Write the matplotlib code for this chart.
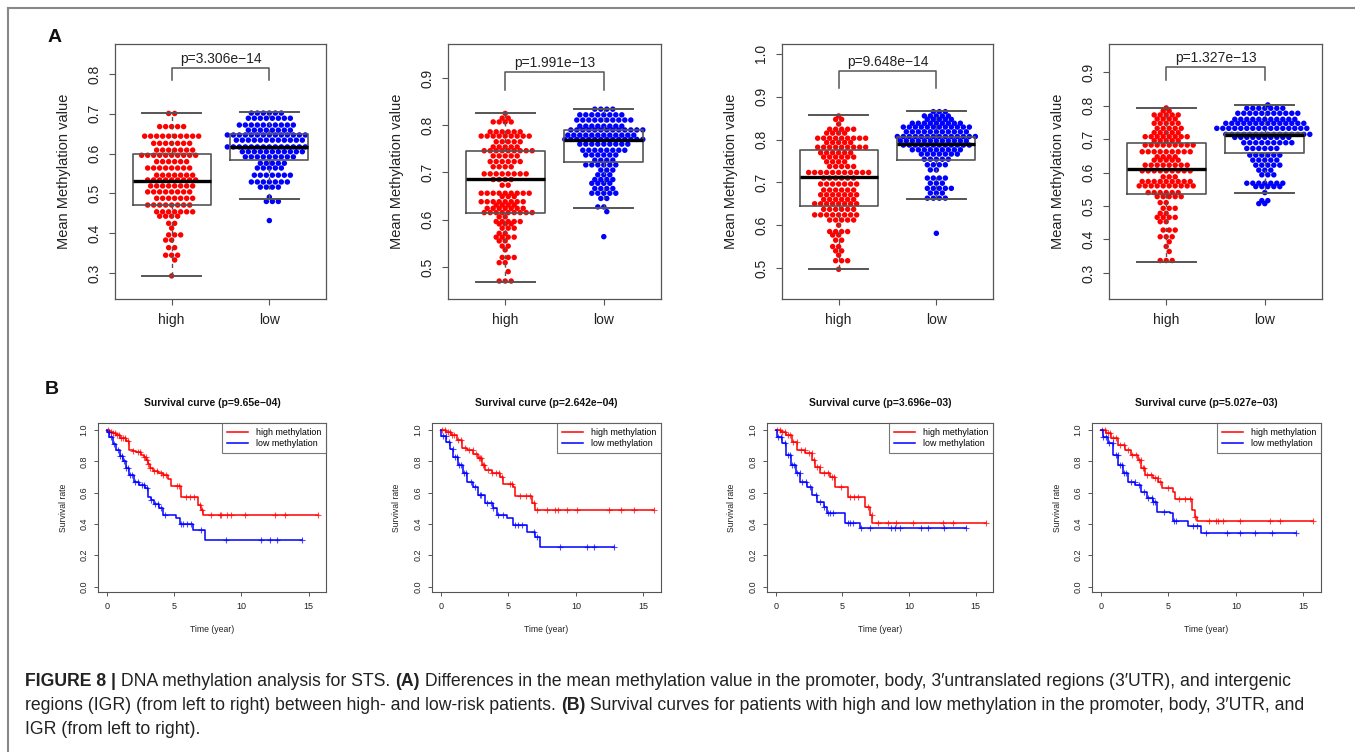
import numpy as np
import matplotlib
matplotlib.use("Agg")
import matplotlib.pyplot as plt
from matplotlib.lines import Line2D

plt.rcParams['font.family'] = ['Liberation Sans', 'DejaVu Sans']

# ---------------- data: methylation swarm (levels, counts of dots) ----------------
groups = ["high", "low"]
box_pvals = ["p=3.306e\u221214", "p=1.991e\u221213", "p=9.648e\u221214", "p=1.327e\u221213"]

p1_high_levels = [0.701, 0.668, 0.644, 0.626, 0.609, 0.596, 0.580, 0.564, 0.546, 0.534, 0.519, 0.504, 0.488,
                  0.471, 0.454, 0.443, 0.425, 0.413, 0.396, 0.383, 0.364, 0.345, 0.333, 0.293]
p1_high_counts = [2, 5, 10, 7, 7, 10, 6, 8, 7, 9, 8, 8, 7, 8, 7, 4, 2, 1, 3, 2, 2, 3, 1, 1]
p1_low_levels = [0.702, 0.689, 0.672, 0.659, 0.647, 0.634, 0.617, 0.605, 0.592, 0.576, 0.564, 0.546, 0.529,
                 0.516, 0.491, 0.480, 0.432]
p1_low_counts = [6, 8, 10, 8, 14, 12, 14, 11, 9, 5, 5, 7, 7, 4, 1, 3, 1]

p2_high_levels = [0.825, 0.815, 0.807, 0.786, 0.777, 0.765, 0.754, 0.746, 0.735, 0.723, 0.712, 0.697, 0.685,
                  0.673, 0.656, 0.649, 0.638, 0.631, 0.624, 0.615, 0.606, 0.596, 0.591, 0.582, 0.571, 0.563,
                  0.555, 0.544, 0.536, 0.520, 0.509, 0.490, 0.470]
p2_high_counts = [1, 2, 4, 6, 9, 5, 5, 9, 5, 6, 4, 8, 4, 2, 9, 3, 8, 4, 7, 9, 2, 5, 3, 3, 2, 4, 2, 2, 1, 3, 2, 1, 3]
p2_low_levels = [0.834, 0.822, 0.811, 0.798, 0.790, 0.779, 0.770, 0.760, 0.747, 0.737, 0.726, 0.716, 0.705,
                 0.695, 0.685, 0.677, 0.666, 0.656, 0.645, 0.627, 0.617, 0.564]
p2_low_counts = [4, 8, 10, 8, 13, 12, 14, 9, 8, 6, 4, 6, 3, 3, 4, 4, 4, 5, 2, 2, 1, 1]

p3_high_levels = [0.855, 0.847, 0.836, 0.824, 0.815, 0.803, 0.793, 0.782, 0.769, 0.759, 0.748, 0.737, 0.723,
                  0.710, 0.696, 0.682, 0.671, 0.660, 0.650, 0.637, 0.624, 0.612, 0.600, 0.585, 0.577, 0.565,
                  0.550, 0.540, 0.530, 0.517, 0.497]
p3_high_counts = [1, 2, 1, 5, 4, 9, 5, 9, 6, 6, 4, 5, 11, 6, 7, 6, 7, 6, 8, 6, 8, 5, 1, 4, 2, 2, 2, 2, 1, 3, 1]
p3_low_levels = [0.865, 0.855, 0.847, 0.838, 0.829, 0.818, 0.807, 0.797, 0.787, 0.776, 0.766, 0.754, 0.741,
                 0.729, 0.710, 0.698, 0.686, 0.675, 0.663, 0.581]
p3_low_counts = [3, 5, 5, 9, 12, 11, 14, 12, 12, 9, 7, 5, 4, 2, 4, 3, 5, 3, 4, 1]

p4_high_levels = [0.793, 0.784, 0.772, 0.760, 0.747, 0.732, 0.719, 0.707, 0.695, 0.682, 0.662, 0.647, 0.637,
                  0.622, 0.605, 0.587, 0.573, 0.560, 0.540, 0.528, 0.510, 0.493, 0.478, 0.466, 0.453, 0.428,
                  0.408, 0.393, 0.379, 0.364, 0.337]
p4_high_counts = [1, 2, 5, 4, 5, 5, 5, 8, 5, 9, 9, 4, 5, 8, 9, 3, 9, 10, 6, 5, 2, 3, 2, 4, 2, 3, 3, 1, 1, 1, 3]
p4_low_levels = [0.802, 0.792, 0.777, 0.759, 0.747, 0.732, 0.714, 0.705, 0.689, 0.672, 0.652, 0.637, 0.622,
                 0.607, 0.593, 0.568, 0.558, 0.540, 0.516, 0.507]
p4_low_counts = [1, 7, 11, 11, 14, 16, 15, 10, 9, 6, 6, 5, 5, 3, 3, 7, 5, 1, 2, 2]

# box statistics [lower whisker, Q1, median, Q3, upper whisker]
p1_high_box = [0.293, 0.470, 0.532, 0.600, 0.701]
p1_low_box = [0.487, 0.583, 0.617, 0.650, 0.705]
p2_high_box = [0.468, 0.614, 0.686, 0.745, 0.826]
p2_low_box = [0.625, 0.722, 0.769, 0.790, 0.834]
p3_high_box = [0.498, 0.645, 0.713, 0.776, 0.857]
p3_low_box = [0.661, 0.752, 0.790, 0.805, 0.866]
p4_high_box = [0.333, 0.536, 0.610, 0.688, 0.793]
p4_low_box = [0.540, 0.658, 0.712, 0.718, 0.801]

# ---------------- data: survival curves ----------------
surv_pvals = ["Survival curve (p=9.65e\u221204)", "Survival curve (p=2.642e\u221204)",
              "Survival curve (p=3.696e\u221203)", "Survival curve (p=5.027e\u221203)"]

s1_high_t = [0.2, 0.45, 0.7, 1.0, 1.44, 1.69, 1.95, 2.19, 2.56, 2.75, 2.93, 3.05, 3.18, 3.43, 3.8, 4.17, 4.54,
             4.79, 5.54, 6.78, 7.03, 7.15]
s1_high_s = [0.99, 0.98, 0.97, 0.95, 0.93, 0.87, 0.865, 0.86, 0.84, 0.825, 0.81, 0.78, 0.755, 0.74, 0.725, 0.71,
             0.69, 0.64, 0.575, 0.52, 0.49, 0.457]
s1_high_cens = [0.1, 0.3, 0.45, 0.6, 0.75, 0.9, 1.05, 1.2, 1.35, 1.6, 1.95, 2.3, 2.5, 2.75, 2.9, 3.0, 3.1, 3.25,
                3.5, 3.75, 4.0, 4.2, 4.4, 5.2, 5.4, 5.9, 6.2, 6.5, 6.9, 7.1, 7.77, 8.39, 8.52, 8.96, 9.26,
                10.26, 12.49, 13.23, 15.7]
s1_low_t = [0.05, 0.2, 0.45, 0.7, 0.95, 1.19, 1.44, 1.69, 2.06, 2.43, 2.81, 3.05, 3.3, 3.55, 3.92, 4.17, 5.17,
            5.41, 6.41, 7.33]
s1_low_s = [0.99, 0.957, 0.91, 0.87, 0.835, 0.80, 0.755, 0.71, 0.67, 0.65, 0.63, 0.575, 0.55, 0.53, 0.50, 0.46,
            0.436, 0.40, 0.36, 0.30]
s1_low_cens = [0.15, 0.35, 0.55, 0.8, 1.0, 1.15, 1.3, 1.45, 1.6, 1.75, 1.9, 2.1, 2.3, 2.6, 2.8, 3.0, 3.3, 3.6,
               3.8, 4.0, 4.3, 5.5, 5.7, 6.0, 6.3, 7.0, 8.89, 11.49, 12.12, 12.66, 14.48]

s2_high_t = [0.42, 0.79, 1.17, 1.54, 1.91, 2.41, 2.78, 3.02, 3.27, 3.77, 4.39, 4.64, 5.38, 5.5, 6.74, 6.99]
s2_high_s = [0.99, 0.97, 0.936, 0.883, 0.87, 0.847, 0.82, 0.777, 0.745, 0.723, 0.70, 0.655, 0.638, 0.579,
             0.532, 0.49]
s2_high_cens = [0.1, 0.3, 0.5, 0.7, 0.85, 1.0, 1.3, 1.5, 1.8, 2.1, 2.4, 2.6, 2.8, 2.9, 3.0, 3.1, 3.2, 3.5, 3.8,
                4.1, 4.3, 4.5, 5.1, 5.3, 5.9, 6.3, 6.6, 6.9, 7.12, 7.86, 8.48, 8.65, 9.35, 10.09, 12.45, 13.32,
                14.31, 15.75]
s2_low_t = [0.05, 0.42, 0.65, 0.92, 1.29, 1.66, 1.91, 2.41, 2.78, 3.27, 3.89, 4.14, 4.88, 5.38, 6.37, 6.99, 7.36]
s2_low_s = [0.96, 0.926, 0.88, 0.83, 0.777, 0.723, 0.67, 0.638, 0.585, 0.532, 0.50, 0.457, 0.436, 0.394, 0.35,
            0.319, 0.255]
s2_low_cens = [0.2, 0.4, 0.6, 0.9, 1.05, 1.2, 1.35, 1.5, 1.7, 1.85, 2.2, 2.5, 2.9, 3.0, 3.4, 3.7, 3.9, 4.2, 4.6,
               5.5, 5.7, 6.0, 6.9, 7.1, 8.85, 10.84, 11.33, 12.82]

s3_high_t = [0.37, 0.74, 1.24, 1.61, 2.23, 2.73, 2.98, 3.35, 4.09, 4.46, 5.46, 6.69, 7.07, 7.26]
s3_high_s = [0.99, 0.968, 0.926, 0.872, 0.851, 0.809, 0.766, 0.723, 0.702, 0.638, 0.57, 0.51, 0.457, 0.404]
s3_high_cens = [0.1, 0.3, 0.5, 0.7, 0.9, 1.1, 1.3, 1.6, 1.9, 2.2, 2.5, 2.7, 2.9, 3.1, 3.3, 3.6, 3.9, 4.2, 4.4,
                4.9, 5.6, 5.9, 6.2, 6.9, 7.2, 7.69, 8.43, 9.05, 10.29, 12.52, 13.27, 15.75]
s3_low_t = [0.12, 0.5, 0.74, 1.12, 1.49, 1.86, 2.36, 2.73, 3.10, 3.6, 3.84, 5.21, 6.32]
s3_low_s = [0.957, 0.915, 0.84, 0.777, 0.723, 0.67, 0.638, 0.585, 0.543, 0.51, 0.468, 0.404, 0.372]
s3_low_cens = [0.15, 0.4, 0.7, 0.9, 1.05, 1.2, 1.4, 1.6, 1.8, 2.0, 2.3, 2.6, 3.0, 3.3, 3.6, 3.9, 4.1, 4.3, 5.4,
               5.6, 5.8, 6.4, 7.07, 8.68, 8.93, 9.3, 10.91, 11.41, 12.65, 14.26]

s4_high_t = [0.42, 0.79, 1.28, 1.78, 2.27, 2.77, 3.01, 3.26, 3.88, 4.25, 4.5, 5.36, 5.49, 6.72, 6.97, 7.14]
s4_high_s = [0.979, 0.947, 0.904, 0.872, 0.84, 0.809, 0.755, 0.713, 0.691, 0.67, 0.628, 0.606, 0.557, 0.49,
             0.447, 0.421]
s4_high_cens = [0.1, 0.3, 0.5, 0.7, 0.9, 1.1, 1.4, 1.7, 2.0, 2.3, 2.6, 2.8, 3.0, 3.1, 3.2, 3.4, 3.7, 4.0, 4.2,
                4.4, 5.0, 5.8, 6.2, 6.6, 7.0, 8.03, 8.52, 8.7, 9.07, 10.3, 12.53, 13.27, 15.74]
s4_low_t = [0.17, 0.54, 0.91, 1.28, 1.66, 2.03, 2.52, 3.01, 3.39, 3.88, 4.13, 5.11, 5.36, 6.47, 7.39]
s4_low_s = [0.957, 0.915, 0.84, 0.777, 0.723, 0.67, 0.649, 0.606, 0.564, 0.543, 0.479, 0.468, 0.421, 0.387, 0.34]
s4_low_cens = [0.2, 0.4, 0.6, 0.9, 1.1, 1.25, 1.4, 1.55, 1.7, 1.9, 2.2, 2.5, 2.8, 3.2, 3.5, 3.8, 3.9, 4.0, 4.7,
               5.4, 5.6, 6.8, 7.1, 7.78, 9.32, 10.3, 11.42, 12.65, 14.45]

legend_labels = ["high methylation", "low methylation"]

# ---------------- layout ----------------
W, H = 1355, 752
fig = plt.figure(figsize=(W / 100, H / 100), dpi=100)
RED, BLUE, GRAY = "#FF0000", "#0000FF", "#555555"


def ax_px(x0, x1, y0, y1):
    return fig.add_axes([x0 / W, 1 - y1 / H, (x1 - x0) / W, (y1 - y0) / H])


def fx(x):
    return x / W


def fy(y):
    return 1 - y / H


def hex_rows(levels, counts, d=6.0):
    """one row of dots per level; neighbouring rows offset by half a dot (hex packing), pixel offsets."""
    order = np.argsort(levels)
    xs, ys = [], []
    for r, i in enumerate(order):
        n = counts[i]
        phase = 0.0 if r % 2 == 0 else d / 2
        k = np.arange(n) - (n // 2)
        offs = phase + k * d
        offs = offs - (np.round((offs.mean() - phase) / d) * d if n > 0 else 0)
        xs.extend(offs)
        ys.extend([levels[i]] * n)
    return np.array(xs), np.array(ys)


box_axes_px = [(115, 326), (448, 661), (782, 993), (1109, 1322)]
box_ylims = [(0.235, 0.8755), (0.432, 0.972), (0.4276, 1.023), (0.222, 0.984)]
box_yticks = [np.arange(0.3, 0.81, 0.1), np.arange(0.5, 0.91, 0.1), np.arange(0.5, 1.01, 0.1),
              np.arange(0.3, 0.91, 0.1)]
bracket_y = [(0.815, 0.785), (0.913, 0.875), (0.960, 0.920), (0.915, 0.876)]
swarm_data = [
    ((p1_high_levels, p1_high_counts), (p1_low_levels, p1_low_counts), p1_high_box, p1_low_box),
    ((p2_high_levels, p2_high_counts), (p2_low_levels, p2_low_counts), p2_high_box, p2_low_box),
    ((p3_high_levels, p3_high_counts), (p3_low_levels, p3_low_counts), p3_high_box, p3_low_box),
    ((p4_high_levels, p4_high_counts), (p4_low_levels, p4_low_counts), p4_high_box, p4_low_box),
]
AY0, AY1 = 44, 299
XL = (0.42, 2.58)
for k in range(4):
    x0, x1 = box_axes_px[k]
    ax = ax_px(x0, x1, AY0, AY1)
    ylo, yhi = box_ylims[k]
    ax.set_xlim(*XL)
    ax.set_ylim(ylo, yhi)
    xpx = (x1 - x0) / (XL[1] - XL[0])
    hi_data, lo_data, hb, lb = swarm_data[k]
    for gi, ((lv, ct), col) in enumerate([(hi_data, RED), (lo_data, BLUE)]):
        offs, vals = hex_rows(np.asarray(lv), np.asarray(ct), 6.0)
        ax.scatter(gi + 1 + offs / xpx, vals, s=15.5, color=col, edgecolors="none", zorder=2)
    stats = []
    for b in (hb, lb):
        stats.append(dict(whislo=b[0], q1=b[1], med=b[2], q3=b[3], whishi=b[4], fliers=[]))
    ax.bxp(stats, positions=[1, 2], widths=0.8, showfliers=False, manage_ticks=False,
           boxprops=dict(color=GRAY, lw=1.2),
           whiskerprops=dict(color=GRAY, lw=1.0, ls=(0, (3, 3))),
           capprops=dict(color=GRAY, lw=1.4),
           medianprops=dict(color="black", lw=2.4), capwidths=0.6)
    for a in ax.lines:
        a.set_zorder(3)
    bt, bl = bracket_y[k]
    ax.plot([1, 1, 2, 2], [bl, bt, bt, bl], color=GRAY, lw=1.1, zorder=3)
    ax.text(1.5, bt + (yhi - ylo) * 0.008, box_pvals[k], ha="center", va="bottom", fontsize=10, color="#222")
    ax.set_xticks([1, 2])
    ax.set_xticklabels(groups)
    ax.set_yticks(box_yticks[k])
    ax.set_yticklabels(["%.1f" % v for v in box_yticks[k]], rotation=90, va="center")
    ax.tick_params(axis="both", colors=GRAY, labelcolor="#222", labelsize=10, length=4, width=0.8, pad=6)
    for sp in ax.spines.values():
        sp.set_color(GRAY)
        sp.set_linewidth(0.9)
    fig.text(fx(x0 - 51), fy((AY0 + AY1) / 2), "Mean Methylation value", rotation=90, ha="center",
             va="center", fontsize=10.5, color="#222")

surv_axes_px = [(98, 326), (432, 661), (767, 993), (1092, 1321)]
SY0, SY1 = 423, 592
surv_data = [
    (s1_high_t, s1_high_s, s1_high_cens, s1_low_t, s1_low_s, s1_low_cens),
    (s2_high_t, s2_high_s, s2_high_cens, s2_low_t, s2_low_s, s2_low_cens),
    (s3_high_t, s3_high_s, s3_high_cens, s3_low_t, s3_low_s, s3_low_cens),
    (s4_high_t, s4_high_s, s4_high_cens, s4_low_t, s4_low_s, s4_low_cens),
]
for k in range(4):
    x0, x1 = surv_axes_px[k]
    ax = ax_px(x0, x1, SY0, SY1)
    ht, hs, hc, lt, ls_, lc = surv_data[k]
    for (t, s, c, col) in [(ht, hs, hc, RED), (lt, ls_, lc, BLUE)]:
        tend = max(c)
        xx = np.r_[0.0, t, tend]
        yy = np.r_[1.0, s, s[-1]]
        ax.step(xx, yy, where="post", color=col, lw=1.1, zorder=3)
        ct = np.asarray(c)
        idx = np.searchsorted(np.asarray(t), ct, side="right")
        cv = np.r_[1.0, s][idx]
        ax.plot(ct, cv, ls="none", marker="+", ms=5, mew=0.8, color=col, alpha=0.7, zorder=3)
    ax.set_xlim(-0.65, 16.3)
    ax.set_ylim(-0.035, 1.045)
    ax.set_xticks([0, 5, 10, 15])
    ax.set_yticks(np.arange(0, 1.01, 0.2))
    ax.set_yticklabels(["%.1f" % v for v in np.arange(0, 1.01, 0.2)], rotation=90, va="center")
    ax.tick_params(axis="both", colors=GRAY, labelcolor="#222", labelsize=6.5, length=3, width=0.7, pad=4)
    for sp in ax.spines.values():
        sp.set_color(GRAY)
        sp.set_linewidth(0.8)
    handles = [Line2D([], [], color=RED, lw=1.1), Line2D([], [], color=BLUE, lw=1.1)]
    leg = ax.legend(handles, legend_labels, loc="upper right", fontsize=6.4, fancybox=False, frameon=True,
                    edgecolor=GRAY, borderaxespad=0, handlelength=2.3, borderpad=0.55, labelspacing=0.25,
                    handletextpad=0.9)
    leg.get_frame().set_linewidth(0.8)
    fig.text(fx((x0 + x1) / 2), fy(403), surv_pvals[k], ha="center", va="center", fontsize=7.5,
             fontweight="bold", color="#111")
    fig.text(fx(x0 - 35), fy((SY0 + SY1) / 2), "Survival rate", rotation=90, ha="center", va="center",
             fontsize=6.2, color="#222")
    fig.text(fx((x0 + x1) / 2), fy(630), "Time (year)", ha="center", va="center", fontsize=6.2, color="#222")

fig.text(fx(55), fy(37), "A", ha="center", va="center", fontsize=14, fontweight="bold", color="#111")
fig.text(fx(52), fy(390), "B", ha="center", va="center", fontsize=14, fontweight="bold", color="#111")

# frame lines (top and left)
fig.add_artist(Line2D([fx(8), fx(1355)], [fy(8), fy(8)], color="#888888", lw=1.5))
fig.add_artist(Line2D([fx(8), fx(8)], [fy(8), fy(752)], color="#888888", lw=1.5))

# caption with mixed bold / regular runs
caption_lines = [
    [("FIGURE 8 |", "bold"), (" DNA methylation analysis for STS. ", "normal"), ("(A)", "bold"),
     (" Differences in the mean methylation value in the promoter, body, 3\u2032untranslated regions (3\u2032UTR), and intergenic", "normal")],
    [("regions (IGR) (from left to right) between high- and low-risk patients. ", "normal"), ("(B)", "bold"),
     (" Survival curves for patients with high and low methylation in the promoter, body, 3\u2032UTR, and", "normal")],
    [("IGR (from left to right).", "normal")],
]
renderer = fig.canvas.get_renderer()
cap_y = [686, 710, 734]
for line, yb in zip(caption_lines, cap_y):
    x = 25.0
    for txt, wt in line:
        t = fig.text(fx(x), fy(yb), txt, ha="left", va="baseline", fontsize=12.7, fontweight=wt,
                     color="#222")
        bb = t.get_window_extent(renderer=renderer)
        x += bb.width

fig.savefig("out.png", dpi=100)
